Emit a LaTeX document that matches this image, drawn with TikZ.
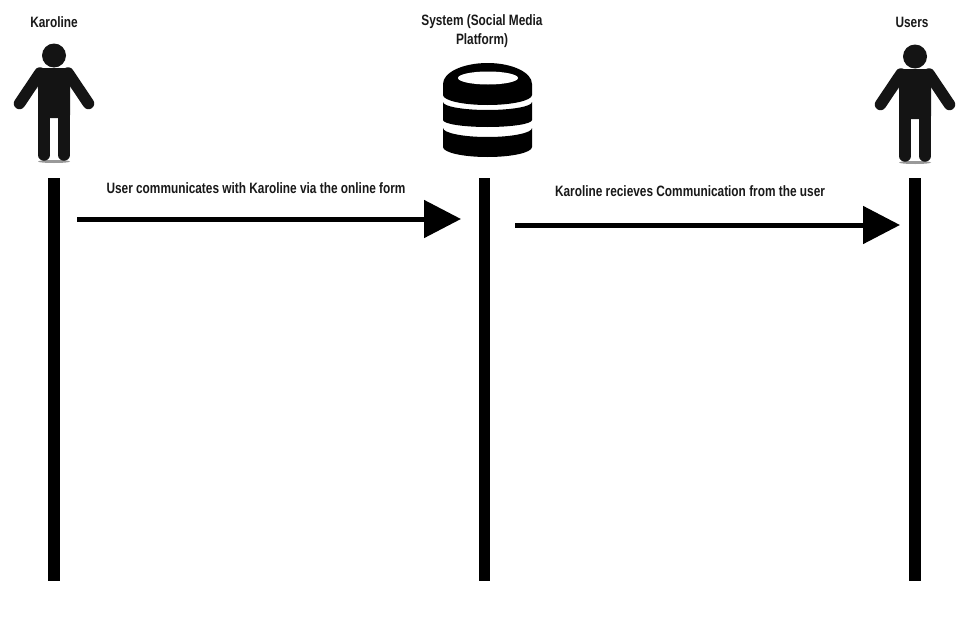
\documentclass[tikz,border=0pt]{standalone}
\usepackage{fontspec}
\setmainfont{Liberation Sans}
\newfontfamily\labelfont[FakeStretch=0.79]{Liberation Sans Bold}
\usetikzlibrary{arrows.meta}
\tikzset{
  lbl/.style={font=\labelfont\fontsize{15}{19}\selectfont,text=black!90,align=center,inner sep=0pt},
  lifeline/.style={line width=11.5pt,black},
  msg/.style={line width=5pt,black,-{Triangle[length=37pt,width=37pt]}},
  limb/.style={line width=11.5pt,line cap=round,draw=black!92},
}
\newcommand{\personshape}[2]{%
  \begin{scope}[shift={(#1,#2)}]
    \fill[black!40] (0,95.5) ellipse (16 and 1.5);
    \fill[black!92] (0,-10.5) circle (12);
    \fill[black!92,rounded corners=3pt] (-19,2) -- (19,2) -- (16,20) -- (16,52) -- (-16,52) -- (-16,20) -- cycle;
    \draw[limb] (-14,7) -- (-34.5,37.5);
    \draw[limb] (14,7) -- (34.5,37.5);
    \draw[limb] (-10,45) -- (-10,89);
    \draw[limb] (10,45) -- (10,89);
    \fill[black!92] (-16,40) rectangle (16,49);
  \end{scope}}
\begin{document}
\begin{tikzpicture}[x=1pt,y=-1pt]
\useasboundingbox (0,0) rectangle (974,629);
\fill[white] (0,0) rectangle (974,629);
% actors
\personshape{54}{66}
\personshape{915}{67}
% database
\fill[black] (443,84) arc[start angle=180,end angle=360,x radius=44.5,y radius=21] -- (532,95) arc[start angle=0,end angle=180,x radius=44.5,y radius=10] -- cycle;
\fill[white] (488,78) ellipse (30 and 6.5);
\fill[black] (443,102) arc[start angle=180,end angle=0,x radius=44.5,y radius=8] -- (532,120) arc[start angle=0,end angle=180,x radius=44.5,y radius=7] -- cycle;
\fill[black] (443,128) arc[start angle=180,end angle=0,x radius=44.5,y radius=9] -- (532,147) arc[start angle=0,end angle=180,x radius=44.5,y radius=10] -- cycle;
% labels
\node[lbl] (karoline) at (54,22) {Karoline};
\node[lbl] (system) at (482,31.5) {System (Social Media\\Platform)};
\node[lbl] (users) at (912,22) {Users};
\node[lbl] (m1) at (256,188) {User communicates with Karoline via the online form};
\node[lbl] (m2) at (690,191) {Karoline recieves Communication from the user};
% lifelines
\coordinate (k1) at (54,178); \coordinate (k2) at (54,581);
\coordinate (s1) at (484.5,178); \coordinate (s2) at (484.5,581);
\coordinate (u1) at (915,178); \coordinate (u2) at (915,581);
\draw[lifeline] (k1) -- (k2);
\draw[lifeline] (s1) -- (s2);
\draw[lifeline] (u1) -- (u2);
% messages
\coordinate (a1) at (77,219); \coordinate (b1) at (461,219);
\coordinate (a2) at (515,225); \coordinate (b2) at (900,225);
\draw[msg] (a1) -- (b1);
\draw[msg] (a2) -- (b2);
\end{tikzpicture}
\end{document}
